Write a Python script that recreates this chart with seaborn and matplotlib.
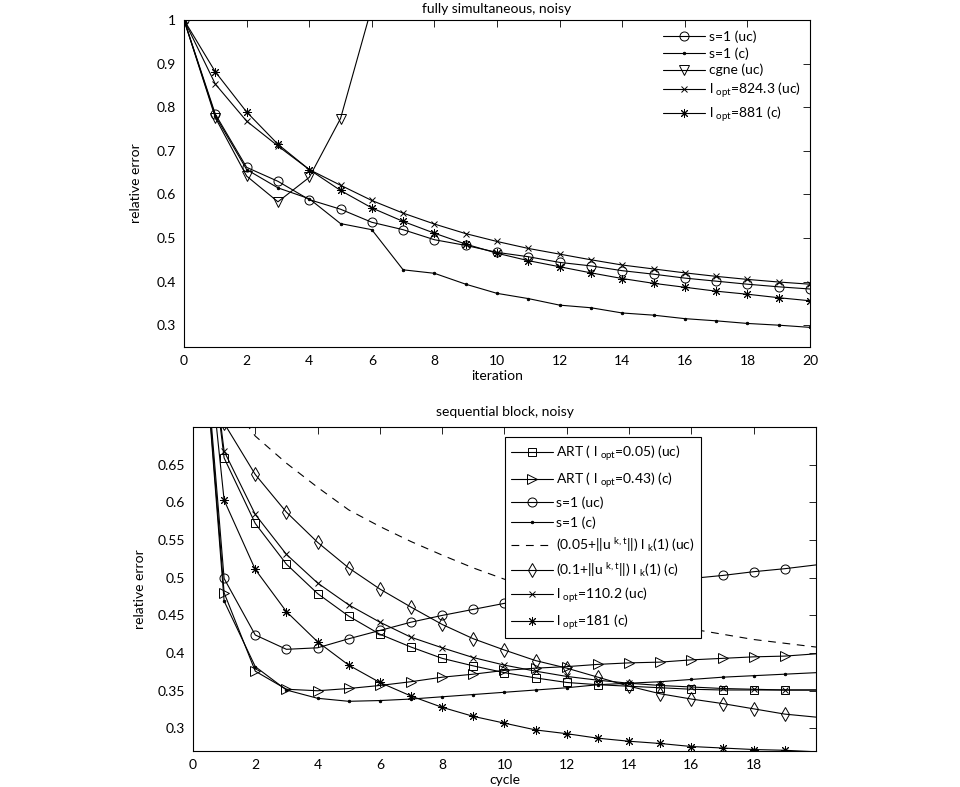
import numpy as np
import pandas as pd
import matplotlib
matplotlib.use("Agg")
import matplotlib.pyplot as plt
import matplotlib.ticker as mticker
import seaborn as sns

# ---------------- data: top panel (fully simultaneous, noisy) ----------------
iterations = list(range(0, 21))
top_s1_uc = [1.0, 0.784, 0.662, 0.630, 0.588, 0.566, 0.536, 0.519, 0.496, 0.483, 0.467,
             0.457, 0.444, 0.436, 0.425, 0.417, 0.408, 0.401, 0.394, 0.388, 0.383]
top_s1_c = [1.0, 0.780, 0.657, 0.615, 0.590, 0.533, 0.519, 0.427, 0.419, 0.394, 0.373,
            0.361, 0.346, 0.340, 0.328, 0.323, 0.315, 0.310, 0.304, 0.300, 0.295]
cgne_iterations = list(range(0, 7))
top_cgne_uc = [1.0, 0.776, 0.642, 0.583, 0.639, 0.774, 1.03]
top_lopt_uc = [1.0, 0.853, 0.768, 0.711, 0.657, 0.621, 0.586, 0.557, 0.532, 0.510, 0.492,
               0.476, 0.463, 0.450, 0.438, 0.429, 0.420, 0.412, 0.405, 0.399, 0.394]
top_lopt_c = [1.0, 0.881, 0.789, 0.715, 0.657, 0.609, 0.569, 0.538, 0.511, 0.486, 0.465,
              0.448, 0.434, 0.420, 0.407, 0.396, 0.387, 0.378, 0.371, 0.363, 0.356]
top_labels = ["s=1 (uc)", "s=1 (c)", "cgne (uc)",
              r"l $_{\mathregular{opt}}$=824.3 (uc)", r"l $_{\mathregular{opt}}$=881 (c)"]
top_xticks = list(range(0, 21, 2))
top_yticks = [0.3, 0.4, 0.5, 0.6, 0.7, 0.8, 0.9, 1.0]

# ---------------- data: bottom panel (sequential block, noisy) ----------------
cycles = list(range(0, 21))
art_uc = [1.0, 0.659, 0.572, 0.518, 0.479, 0.449, 0.425, 0.408, 0.393, 0.383, 0.374,
          0.367, 0.361, 0.358, 0.356, 0.354, 0.352, 0.351, 0.351, 0.351, 0.351]
art_c = [1.0, 0.480, 0.376, 0.352, 0.350, 0.353, 0.357, 0.362, 0.368, 0.372, 0.377,
         0.380, 0.382, 0.385, 0.387, 0.388, 0.391, 0.393, 0.395, 0.396, 0.399]
seq_s1_uc = [1.0, 0.499, 0.424, 0.405, 0.407, 0.419, 0.430, 0.441, 0.450, 0.458, 0.466,
             0.473, 0.479, 0.485, 0.490, 0.495, 0.499, 0.503, 0.508, 0.512, 0.517]
seq_s1_c = [1.0, 0.469, 0.382, 0.351, 0.340, 0.336, 0.337, 0.339, 0.342, 0.345, 0.348,
            0.351, 0.354, 0.358, 0.360, 0.362, 0.365, 0.368, 0.370, 0.372, 0.374]
adaptive_uc = [1.0, 0.745, 0.688, 0.652, 0.620, 0.590, 0.568, 0.548, 0.530, 0.513, 0.498,
               0.485, 0.472, 0.461, 0.450, 0.440, 0.432, 0.425, 0.418, 0.413, 0.408]
adaptive_c = [1.0, 0.705, 0.637, 0.587, 0.547, 0.513, 0.485, 0.461, 0.438, 0.419, 0.404,
              0.390, 0.380, 0.368, 0.356, 0.346, 0.339, 0.333, 0.326, 0.319, 0.315]
seq_lopt_uc = [1.0, 0.668, 0.584, 0.531, 0.493, 0.464, 0.441, 0.421, 0.407, 0.394, 0.384,
               0.376, 0.369, 0.364, 0.360, 0.357, 0.355, 0.353, 0.352, 0.351, 0.351]
seq_lopt_c = [1.0, 0.603, 0.511, 0.455, 0.415, 0.384, 0.361, 0.343, 0.328, 0.316, 0.307,
              0.298, 0.293, 0.287, 0.283, 0.280, 0.276, 0.274, 0.272, 0.271, 0.269]
bottom_labels = [
    r"ART ( l $_{\mathregular{opt}}$=0.05) (uc)",
    r"ART ( l $_{\mathregular{opt}}$=0.43) (c)",
    "s=1 (uc)",
    "s=1 (c)",
    r"(0.05+||u $^{\mathregular{k,t}}$||) l $_{\mathregular{k}}$(1) (uc)",
    r"(0.1+||u $^{\mathregular{k,t}}$||) l $_{\mathregular{k}}$(1) (c)",
    r"l $_{\mathregular{opt}}$=110.2 (uc)",
    r"l $_{\mathregular{opt}}$=181 (c)",
]
bottom_xticks = list(range(0, 19, 2))
bottom_yticks = [0.3, 0.35, 0.4, 0.45, 0.5, 0.55, 0.6, 0.65]

# ---------------- style ----------------
sns.set_theme(style="white")
plt.rcParams["font.family"] = ["Lato", "DejaVu Sans"]
plt.rcParams["mathtext.default"] = "regular"
plt.rcParams["mathtext.fontset"] = "custom"
plt.rcParams["mathtext.rm"] = "Lato"
plt.rcParams["mathtext.it"] = "Lato"
FS = 10

fig = plt.figure(figsize=(9.6, 7.87), dpi=100)
fig.patch.set_facecolor("white")
ax1 = fig.add_axes([0.1917, 0.5591, 0.6521, 0.4155])
ax2 = fig.add_axes([0.2010, 0.0457, 0.6490, 0.4117])

LW = 0.8
ASTER = (8, 2, 0)


def draw(ax, x, y, label, marker, ms, ls="-", markevery=None, mfc="none"):
    df = pd.DataFrame({"x": x, "y": y})
    sns.lineplot(data=df, x="x", y="y", ax=ax, color="black", linewidth=LW,
                 linestyle=ls, marker=marker, markersize=ms, markerfacecolor=mfc,
                 markeredgecolor="black", markeredgewidth=0.7, label=label,
                 markevery=markevery, sort=False, estimator=None)


# top panel
draw(ax1, iterations, top_s1_uc, top_labels[0], "o", 6.5)
draw(ax1, iterations, top_s1_c, top_labels[1], ".", 3.5, mfc="black")
draw(ax1, cgne_iterations, top_cgne_uc, top_labels[2], "v", 7)
draw(ax1, iterations, top_lopt_uc, top_labels[3], "x", 5)
draw(ax1, iterations, top_lopt_c, top_labels[4], ASTER, 6.5)

# bottom panel
mk = list(range(0, 20))
draw(ax2, cycles, art_uc, bottom_labels[0], "s", 5.5, markevery=mk)
draw(ax2, cycles, art_c, bottom_labels[1], ">", 7, markevery=mk)
draw(ax2, cycles, seq_s1_uc, bottom_labels[2], "o", 6.5, markevery=mk)
draw(ax2, cycles, seq_s1_c, bottom_labels[3], ".", 3.5, markevery=mk, mfc="black")
draw(ax2, cycles, adaptive_uc, bottom_labels[4], None, 0, ls=(0, (7, 6)))
draw(ax2, cycles, adaptive_c, bottom_labels[5], "d", 7.5, markevery=mk)
draw(ax2, cycles, seq_lopt_uc, bottom_labels[6], "x", 5, markevery=mk)
draw(ax2, cycles, seq_lopt_c, bottom_labels[7], ASTER, 6.5, markevery=mk)

for ax in (ax1, ax2):
    ax.set_facecolor("white")
    for sp in ax.spines.values():
        sp.set_color("black")
        sp.set_linewidth(0.8)
    ax.tick_params(direction="in", top=True, right=True, length=5, width=0.6,
                   labelsize=FS, colors="black", pad=6)
    ax.yaxis.set_major_formatter(mticker.FormatStrFormatter("%g"))
    ax.grid(False)

ax1.set_xlim(0, 20)
ax1.set_ylim(0.25, 1.0)
ax1.set_xticks(top_xticks)
ax1.set_yticks(top_yticks)
ax1.set_xlabel("iteration", fontsize=FS, labelpad=2, color="black")
ax1.set_ylabel("relative error", fontsize=FS, labelpad=10, color="black")
ax1.set_title("fully simultaneous, noisy", fontsize=FS, pad=5, color="black")

ax2.set_xlim(0, 20)
ax2.set_ylim(0.27, 0.70)
ax2.set_xticks(bottom_xticks)
ax2.set_yticks(bottom_yticks)
ax2.set_xlabel("cycle", fontsize=FS, labelpad=2, color="black")
ax2.set_ylabel("relative error", fontsize=FS, labelpad=8, color="black")
ax2.set_title("sequential block, noisy", fontsize=FS, pad=8, color="black")

leg1 = ax1.legend(loc="upper left", bbox_to_anchor=(0.757, 0.985), frameon=False,
                  fontsize=FS, handlelength=3.0, handletextpad=0.25, labelspacing=0.3,
                  borderaxespad=0.0)
leg2 = ax2.legend(loc="upper left", bbox_to_anchor=(0.501, 0.969), frameon=True,
                  fancybox=False, fontsize=FS, handlelength=3.0, handletextpad=0.2,
                  labelspacing=0.5, borderpad=0.45, framealpha=1.0, borderaxespad=0.0)
leg2.get_frame().set_edgecolor("black")
leg2.get_frame().set_linewidth(0.8)
for leg in (leg1, leg2):
    for t in leg.get_texts():
        t.set_color("black")

fig.savefig("out.png", dpi=100, facecolor="white")
